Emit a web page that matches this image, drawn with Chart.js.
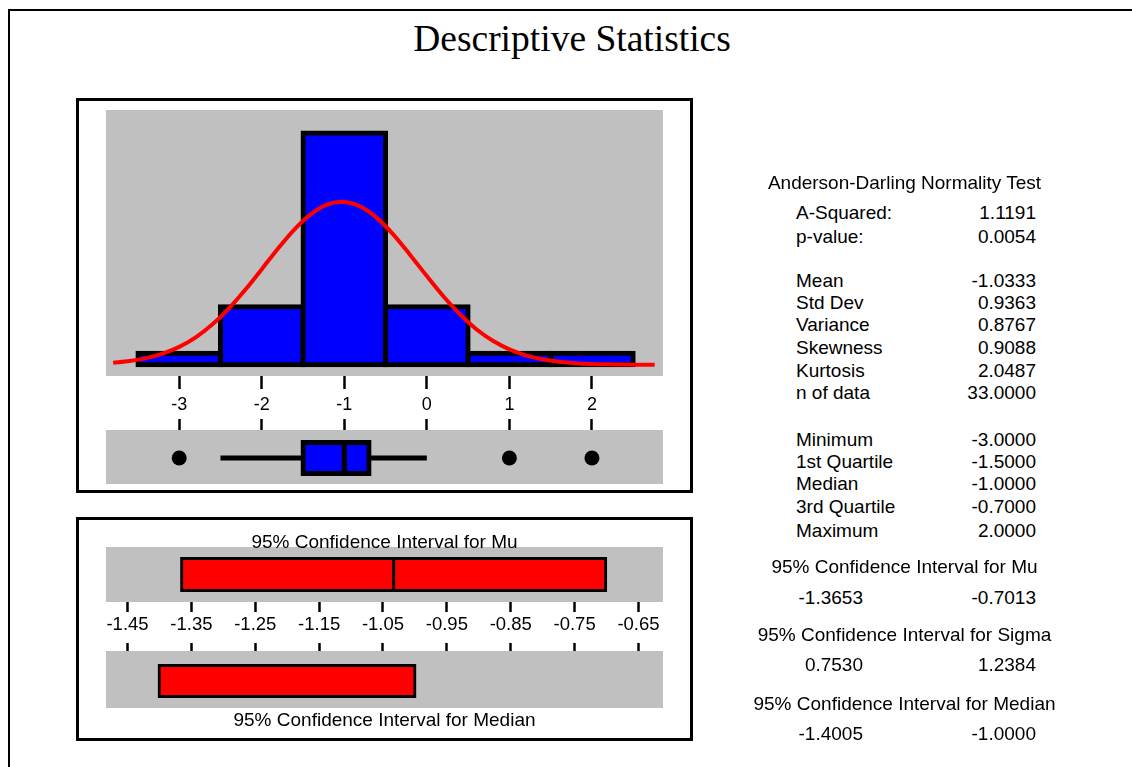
<!DOCTYPE html>
<html><head><meta charset="utf-8">
<script src="https://cdn.jsdelivr.net/npm/chart.js@4.4.1/dist/chart.umd.min.js"></script>
<style>
html,body{margin:0;padding:0;background:#fff;}
#root{position:relative;width:1132px;height:767px;overflow:hidden;font-family:"Liberation Sans",Arial,sans-serif;color:#000;}
.frame{position:absolute;left:8px;top:9px;width:1200px;height:800px;border-top:2px solid #000;border-left:2px solid #000;}
.panel{position:absolute;border:3px solid #000;box-sizing:border-box;}
canvas{position:absolute;}
.t{position:absolute;white-space:nowrap;line-height:22px;font-size:19px;}
.title{position:absolute;left:272px;width:600px;top:17px;text-align:center;font-family:"Liberation Serif","Times New Roman",serif;font-size:37.5px;line-height:44px;white-space:nowrap;}
</style></head><body><div id="root">
<div class="frame"></div>
<div class="title">Descriptive Statistics</div>
<div class="panel" style="left:76px;top:98px;width:617px;height:395px;"></div>
<div class="panel" style="left:76px;top:517px;width:617px;height:224px;"></div>
<canvas id="hist" width="557" height="310" style="left:106px;top:110px;"></canvas>
<canvas id="box" width="557" height="65" style="left:106px;top:419px;"></canvas>
<canvas id="ciMu" width="557" height="91" style="left:106px;top:547px;"></canvas>
<canvas id="ciMed" width="557" height="65" style="left:106px;top:643px;"></canvas>
<div id="texts"></div>
</div>
<script>
// ---------- data ----------
const binCenters = [-3, -2, -1, 0, 1, 2];
const binCounts  = [1, 5, 20, 5, 1, 1];
const curveX = [-3.8,-3.6,-3.4,-3.2,-3.0,-2.8,-2.6,-2.4,-2.2,-2.0,-1.8,-1.6,-1.4,-1.2,-1.0,-0.8,-0.6,-0.4,-0.2,0.0,0.2,0.4,0.6,0.8,1.0,1.2,1.4,1.6,1.8,2.0,2.2,2.4,2.6,2.76];
const curveY = [0.18,0.33,0.58,0.97,1.55,2.37,3.47,4.85,6.47,8.25,10.06,11.71,13.02,13.84,14.05,13.63,12.63,11.19,9.46,7.65,5.91,4.36,3.07,2.07,1.33,0.82,0.48,0.27,0.14,0.07,0.04,0.02,0.01,0.00];
const histTicks = [-3, -2, -1, 0, 1, 2];
const histTickLabels = ["-3", "-2", "-1", "0", "1", "2"];
const boxQuartiles = [-1.5, -1.0, -0.7];
const whiskerEnds = [-2.5, 0.0];
const outliers = [-3, 1, 2];
const meanValue = -1.0333;
const ciMu = [-1.3653, -0.7013];
const ciMedian = [-1.4005, -1.0000];
const ciTicks = [-1.45, -1.35, -1.25, -1.15, -1.05, -0.95, -0.85, -0.75, -0.65];
const ciTickLabels = ["-1.45", "-1.35", "-1.25", "-1.15", "-1.05", "-0.95", "-0.85", "-0.75", "-0.65"];
const statHeading = "Anderson-Darling Normality Test";
const statLabels = ["A-Squared:", "p-value:", "Mean", "Std Dev", "Variance", "Skewness", "Kurtosis", "n of data", "Minimum", "1st Quartile", "Median", "3rd Quartile", "Maximum"];
const statValues = ["1.1191", "0.0054", "-1.0333", "0.9363", "0.8767", "0.9088", "2.0487", "33.0000", "-3.0000", "-1.5000", "-1.0000", "-0.7000", "2.0000"];
const ciHeadings = ["95% Confidence Interval for Mu", "95% Confidence Interval for Sigma", "95% Confidence Interval for Median"];
const ciLow = ["-1.3653", "0.7530", "-1.4005"];
const ciHigh = ["-0.7013", "1.2384", "-1.0000"];

// ---------- layout (pixels) ----------
const statRowY = [213, 237, 281, 303, 325, 348, 371, 393, 440, 462, 484, 507, 531];
const ciHeadY = [567, 635, 704];
const ciValY = [598, 665, 734];

const T = document.getElementById('texts');
function addText(txt, css) { const d = document.createElement('div'); d.className = 't'; d.textContent = txt; d.style.cssText = css; T.appendChild(d); }
addText(statHeading, `left:604px;width:601px;text-align:center;top:${183-11}px;`);
statLabels.forEach((s, i) => addText(s, `left:796px;top:${statRowY[i]-11}px;`));
statValues.forEach((s, i) => addText(s, `left:936px;width:100px;text-align:right;top:${statRowY[i]-11}px;`));
ciHeadings.forEach((s, i) => addText(s, `left:604px;width:601px;text-align:center;top:${ciHeadY[i]-11}px;`));
ciLow.forEach((s, i) => addText(s, `left:763px;width:100px;text-align:right;top:${ciValY[i]-11}px;`));
ciHigh.forEach((s, i) => addText(s, `left:936px;width:100px;text-align:right;top:${ciValY[i]-11}px;`));
addText(ciHeadings[0], `left:106px;width:557px;text-align:center;top:${542-11}px;`);
addText(ciHeadings[2], `left:106px;width:557px;text-align:center;top:${720-11}px;`);

// ---------- charts ----------
Chart.defaults.font.family = '"Liberation Sans", Arial, sans-serif';
Chart.defaults.color = '#000';
const bgPlugin = { id: 'chartBg', beforeDraw(chart) { const {ctx, chartArea: a} = chart; ctx.save(); ctx.fillStyle = '#c0c0c0'; ctx.fillRect(a.left, a.top, a.width, a.height); ctx.restore(); } };
const common = { responsive: false, animation: false, maintainAspectRatio: false, layout: { padding: 0, autoPadding: false }, plugins: { legend: { display: false }, tooltip: { enabled: false } } };

function xAxis(min, max, ticks, labels, pos, tickLen, h, showLabels, pad, fsize) {
  return { type: 'linear', position: pos, min, max, offset: false,
    afterBuildTicks: s => { s.ticks = ticks.map(v => ({ value: v })); },
    afterFit: s => { s.height = h; s.paddingLeft = 0; s.paddingRight = 0; },
    grid: { drawOnChartArea: false, drawTicks: true, tickLength: tickLen, tickWidth: 2.5, tickColor: '#000', offset: false },
    border: { display: false },
    ticks: { display: showLabels, padding: pad, color: '#000', font: { size: fsize || 18 }, maxRotation: 0, autoSkip: false, callback: (v, i) => labels[i] } };
}

new Chart(document.getElementById('hist'), {
  type: 'bar',
  data: { datasets: [
    { type: 'line', data: curveX.map((x, i) => ({ x, y: curveY[i] })), borderColor: '#ff0000', borderWidth: 4, pointRadius: 0, tension: 0.3, order: 0 },
    { type: 'bar', data: binCenters.map((x, i) => ({ x, y: binCounts[i] })), backgroundColor: '#0000ff', borderColor: '#000', borderWidth: 5, inflateAmount: 2.5, borderSkipped: false, barPercentage: 1, categoryPercentage: 1, order: 1 }
  ] },
  options: { ...common, scales: {
    x: xAxis(-3.887, 2.861, histTicks, histTickLabels, 'bottom', 13, 44, true, 5, 18),
    y: { type: 'linear', display: false, min: -0.966, max: 21.98, offset: false }
  } },
  plugins: [bgPlugin]
});

new Chart(document.getElementById('box'), {
  type: 'bar',
  data: { datasets: [
    { type: 'line', data: [{ x: boxQuartiles[1], y: -0.6 }, { x: boxQuartiles[1], y: 0.6 }], borderColor: '#000', borderWidth: 5, pointRadius: 0, order: 0 },
    { type: 'bar', indexAxis: 'y', data: [{ x: [boxQuartiles[0], boxQuartiles[2]], y: 0 }], backgroundColor: '#0000ff', borderColor: '#000', borderWidth: 5, inflateAmount: 2.5, borderSkipped: false, barThickness: 31, order: 1 },
    { type: 'line', data: [{ x: whiskerEnds[0], y: 0 }, { x: boxQuartiles[0], y: 0 }], borderColor: '#000', borderWidth: 5, pointRadius: 0, order: 2 },
    { type: 'line', data: [{ x: boxQuartiles[2], y: 0 }, { x: whiskerEnds[1], y: 0 }], borderColor: '#000', borderWidth: 5, pointRadius: 0, order: 2 },
    { type: 'scatter', data: outliers.map(x => ({ x, y: 0 })), backgroundColor: '#000', borderColor: '#000', borderWidth: 0, pointRadius: 7.5, order: 0 }
  ] },
  options: { ...common, scales: {
    x: xAxis(-3.887, 2.861, histTicks, histTickLabels, 'top', 11, 11, false, 0),
    y: { type: 'linear', display: false, min: -0.963, max: 1.037, offset: false }
  } },
  plugins: [bgPlugin]
});

new Chart(document.getElementById('ciMu'), {
  type: 'bar',
  data: { datasets: [
    { type: 'line', data: [{ x: meanValue, y: -0.62 }, { x: meanValue, y: 0.62 }], borderColor: '#000', borderWidth: 3, pointRadius: 0, order: 0 },
    { type: 'bar', indexAxis: 'y', data: [{ x: ciMu, y: 0 }], backgroundColor: '#ff0000', borderColor: '#000', borderWidth: 3, inflateAmount: 1.5, borderSkipped: false, barThickness: 32, order: 1 }
  ] },
  options: { ...common, scales: {
    x: xAxis(-1.4837, -0.6116, ciTicks, ciTickLabels, 'bottom', 10, 36, true, 2, 18.5),
    y: { type: 'linear', display: false, min: -1, max: 1, offset: false }
  } },
  plugins: [bgPlugin]
});

new Chart(document.getElementById('ciMed'), {
  type: 'bar',
  data: { datasets: [
    { type: 'bar', indexAxis: 'y', data: [{ x: ciMedian, y: 0 }], backgroundColor: '#ff0000', borderColor: '#000', borderWidth: 3, inflateAmount: 1.5, borderSkipped: false, barThickness: 31 }
  ] },
  options: { ...common, scales: {
    x: xAxis(-1.4837, -0.6116, ciTicks, ciTickLabels, 'top', 8, 8, false, 0),
    y: { type: 'linear', display: false, min: -0.95, max: 1.05, offset: false }
  } },
  plugins: [bgPlugin]
});
</script>
</body></html>
